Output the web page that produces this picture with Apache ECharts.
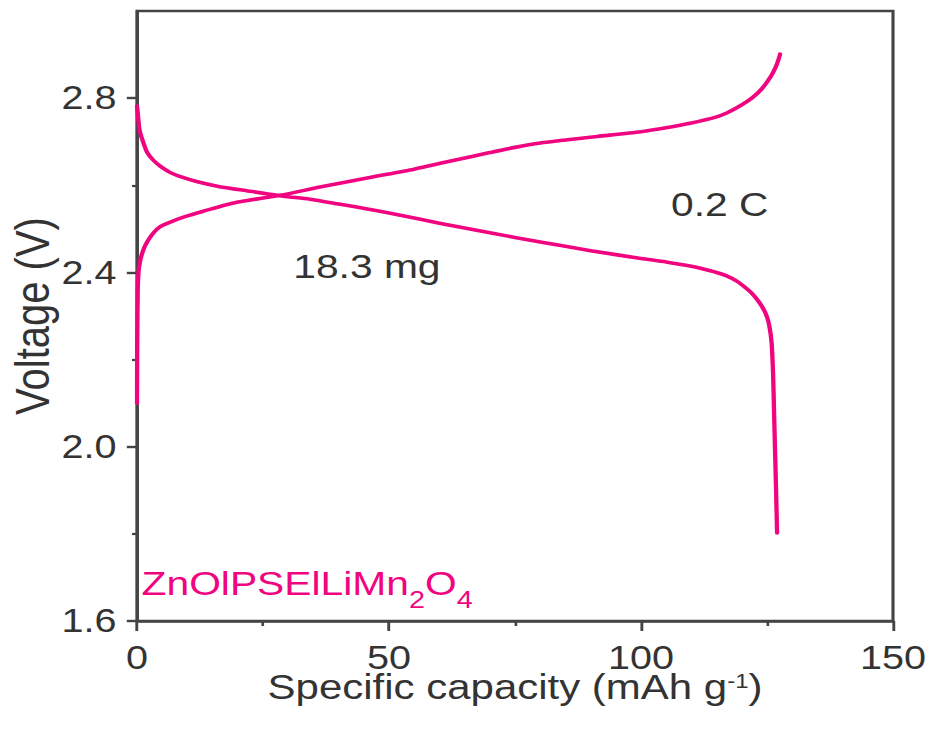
<!DOCTYPE html>
<html>
<head>
<meta charset="utf-8">
<script src="https://cdn.jsdelivr.net/npm/echarts@6/dist/echarts.min.js"></script>
<style>
  html, body { margin: 0; padding: 0; background: #ffffff; overflow: hidden; }
  /* the figure is laid out narrower and widened horizontally */
  #chart { width: 776px; height: 731px; transform: scaleX(1.19974); transform-origin: 0 0; }
</style>
</head>
<body>
<div id="chart"></div>
<script>
// Charge curve: specific capacity (mAh g-1) and voltage (V)
const chargeCapacity = [0, 0.05, 0.15, 0.3, 0.6, 1.2, 2, 3.2, 4.6, 6.5, 9.5, 13, 19.8, 28.4, 36.3, 46.2, 55, 62, 70, 75, 80, 85, 91.3, 100, 105, 110, 115, 117, 119, 121, 122.5, 124, 125.2, 126.2, 127, 127.6];
const chargeVoltage  = [2.10, 2.25, 2.36, 2.40, 2.425, 2.45, 2.47, 2.49, 2.505, 2.515, 2.528, 2.54, 2.561, 2.577, 2.596, 2.618, 2.637, 2.655, 2.675, 2.687, 2.697, 2.704, 2.712, 2.723, 2.732, 2.743, 2.757, 2.766, 2.778, 2.792, 2.805, 2.822, 2.840, 2.859, 2.879, 2.901];

// Discharge curve
const dischargeCapacity = [0, 0.2, 0.4, 0.6, 1.2, 2, 3.2, 4.6, 6.5, 9.1, 12, 15.9, 22, 29, 34.3, 40, 46, 52, 60, 70, 80, 90, 100, 105, 110, 112, 115, 117, 119, 120.5, 122, 123.3, 124.3, 125, 125.5, 125.9, 126.2, 126.4, 126.6, 126.8, 127];
const dischargeVoltage  = [2.782, 2.76, 2.735, 2.722, 2.70, 2.676, 2.658, 2.644, 2.630, 2.618, 2.608, 2.598, 2.587, 2.575, 2.568, 2.557, 2.545, 2.532, 2.513, 2.491, 2.470, 2.450, 2.432, 2.424, 2.414, 2.409, 2.400, 2.392, 2.380, 2.367, 2.352, 2.334, 2.316, 2.298, 2.275, 2.24, 2.17, 2.08, 1.99, 1.90, 1.802];

// Axis ticks
const xMajorTicks = [0, 50, 100, 150];
const yMajorTicks = [1.6, 2.0, 2.4, 2.8];
const yMinorTicks = [1.8, 2.2, 2.6];

const curveColor = '#f0047f';
const axisColor = '#444444';
const textColor = '#333333';
const fontFamily = "'Liberation Sans', Arial, sans-serif";

const pairs = (xs, ys) => xs.map((x, i) => [x, ys[i]]);

const chart = echarts.init(document.getElementById('chart'), null, { renderer: 'svg' });

const option = {
  animation: false,
  backgroundColor: '#ffffff',
  grid: {
    left: 114.19, right: 31.67, top: 11, bottom: 110,
    containLabel: false, outerBoundsMode: 'none',
    show: true, borderColor: axisColor, borderWidth: 2.6, backgroundColor: 'transparent'
  },
  xAxis: {
    type: 'value', min: 0, max: 150, interval: 50,
    name: 'Specific capacity (mAh g{sup|-1})',
    nameLocation: 'middle', nameGap: 50.5, nameMoveOverlap: false,
    nameTextStyle: {
      fontFamily, fontSize: 35, color: textColor, lineHeight: 30,
      rich: { sup: { fontFamily, fontSize: 20, color: textColor, lineHeight: 14, verticalAlign: 'top' } }
    },
    axisLine: { show: true, onZero: false, lineStyle: { color: axisColor, width: 2.6 } },
    axisTick: { show: true, inside: false, length: 10, lineStyle: { color: axisColor, width: 2.4 } },
    minorTick: { show: true, splitNumber: 2, length: 5, lineStyle: { color: axisColor, width: 2.2 } },
    axisLabel: {
      fontFamily, fontSize: 33, color: textColor, margin: 22.5, lineHeight: 28,
      customValues: xMajorTicks
    },
    splitLine: { show: false }
  },
  yAxis: [{
    type: 'value', min: 1.6, max: 3.0,
    name: 'Voltage (V)',
    nameLocation: 'middle', nameGap: 70, nameMoveOverlap: false,
    nameTextStyle: { fontFamily, fontSize: 40, color: textColor, lineHeight: 34 },
    axisLine: { show: true, onZero: false, lineStyle: { color: axisColor, width: 2.6 } },
    axisTick: { show: true, inside: false, length: 8.5, customValues: yMajorTicks, lineStyle: { color: axisColor, width: 2.4 } },
    axisLabel: {
      fontFamily, fontSize: 33, color: textColor, margin: 17,
      customValues: yMajorTicks,
      formatter: v => v.toFixed(1)
    },
    splitLine: { show: false }
  }, {
    // short ticks between the labelled voltages
    type: 'value', min: 1.6, max: 3.0, position: 'left',
    axisLine: { show: false },
    axisTick: { show: true, inside: false, length: 4.2, customValues: yMinorTicks, lineStyle: { color: axisColor, width: 2.2 } },
    axisLabel: { show: false },
    splitLine: { show: false }
  }],
  series: [{
    name: 'charge', type: 'line', data: pairs(chargeCapacity, chargeVoltage),
    showSymbol: false, smooth: 0.25, lineStyle: { color: curveColor, width: 3.6, cap: 'round', join: 'round' }, z: 3
  }, {
    name: 'discharge', type: 'line', data: pairs(dischargeCapacity, dischargeVoltage),
    showSymbol: false, smooth: 0.25, lineStyle: { color: curveColor, width: 3.6, cap: 'round', join: 'round' }, z: 3
  }],
  graphic: [{
    type: 'text', x: 600, y: 204, z: 10,
    style: { text: '0.2 C', fontFamily, fontSize: 34, fill: textColor, align: 'center', verticalAlign: 'middle' }
  }, {
    type: 'text', x: 305.8, y: 266, z: 10,
    style: { text: '18.3 mg', fontFamily, fontSize: 34, fill: textColor, align: 'center', verticalAlign: 'middle' }
  }, {
    type: 'text', x: 118, y: 566, z: 10,
    style: {
      text: '{a|ZnOlPSElLiMn}{b|2}{a|O}{b|4}',
      fontFamily, fontSize: 34, fill: curveColor, align: 'left', verticalAlign: 'top',
      rich: {
        a: { fontFamily, fontSize: 34, fill: curveColor, lineHeight: 40, verticalAlign: 'top' },
        b: { fontFamily, fontSize: 24, fill: curveColor, lineHeight: 24, verticalAlign: 'top', padding: [22, 0, 0, 0] }
      }
    }
  }]
};

chart.setOption(option);
</script>
</body>
</html>
